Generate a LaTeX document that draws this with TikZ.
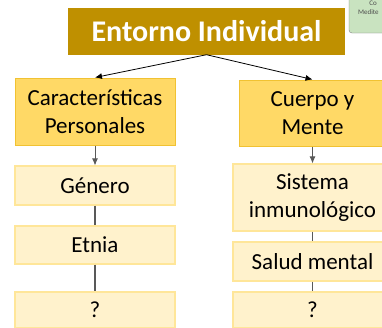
\documentclass[tikz,border=0pt]{standalone}
\usepackage{fontspec}
\setmainfont{Carlito}
\usetikzlibrary{arrows.meta}
\definecolor{oro}{HTML}{BF9000}
\definecolor{amarillo}{HTML}{FFD966}
\definecolor{bordeam}{HTML}{F1C232}
\definecolor{crema}{HTML}{FFF2CC}
\definecolor{bordecr}{HTML}{FFE699}
\definecolor{verde}{HTML}{C9E3C0}
\definecolor{linea}{HTML}{595959}
\begin{document}
\begin{tikzpicture}[x=1pt,y=-1pt,
	titulo/.style={fill=oro,text=white,inner sep=0pt,minimum width=277pt,minimum height=47pt,font=\fontsize{30}{34}\selectfont\bfseries},
	grupo/.style={fill=amarillo,draw=bordeam,line width=1pt,inner sep=0pt,align=center,font=\fontsize{23}{28.5}\selectfont},
	factor/.style={fill=crema,draw=bordecr,line width=1.2pt,inner sep=0pt,align=center,font=\fontsize{23}{28.5}\selectfont},
	flecha/.style={-{Latex[length=7pt,width=6pt]},line width=0.8pt},
	enlace/.style={linea,line width=1.3pt}]
	\path[use as bounding box,clip] (0,0) rectangle (382,327);
	\fill[white] (0,0) rectangle (382,327);
	%recuadro verde de la esquina
	\draw[fill=verde,draw=gray,rounded corners=3pt] (349,-10) rectangle (400,33);
	\node[font=\fontsize{7}{8}\selectfont,text=black!70,inner sep=0pt] (co) at (373,3) {Co};
	\node[font=\fontsize{7}{8}\selectfont,text=black!70,inner sep=0pt,anchor=west] (med) at (358,12) {Medite};
	\node[titulo] (ent) at (206.5,31) {Entorno Individual};
	\node[grupo,minimum width=160pt,minimum height=67pt] (car) at (95,111.5) {Características\\Personales};
	\node[grupo,minimum width=147pt,minimum height=66pt] (cue) at (312.5,113) {Cuerpo y\\Mente};
	\node[factor,minimum width=160pt,minimum height=39pt] (gen) at (95,185.5) {Género};
	\node[factor,minimum width=160pt,minimum height=38pt] (etn) at (95,245) {Etnia};
	\node[factor,minimum width=160pt,minimum height=36pt] (q1) at (95,310) {?};
	\node[factor,minimum width=159pt,minimum height=67pt] (sis) at (312.5,197.5) {Sistema\\inmunológico};
	\node[factor,minimum width=159pt,minimum height=39pt] (sal) at (312.5,261.5) {Salud mental};
	\node[factor,minimum width=159pt,minimum height=36pt] (q2) at (312.5,310) {?};
	\draw[flecha] (ent.south) -- (car.north);
	\draw[flecha] (ent.south) -- (cue.north);
	\draw[flecha,linea] (car.south) -- (gen.north);
	\draw[flecha,linea] (cue.south) -- (sis.north);
	\draw[enlace] (gen.south) -- (etn.north);
	\draw[enlace] (etn.south) -- (q1.north);
	\draw[enlace] (sis.south) -- (sal.north);
	\draw[enlace] (sal.south) -- (q2.north);
\end{tikzpicture}
\end{document}
